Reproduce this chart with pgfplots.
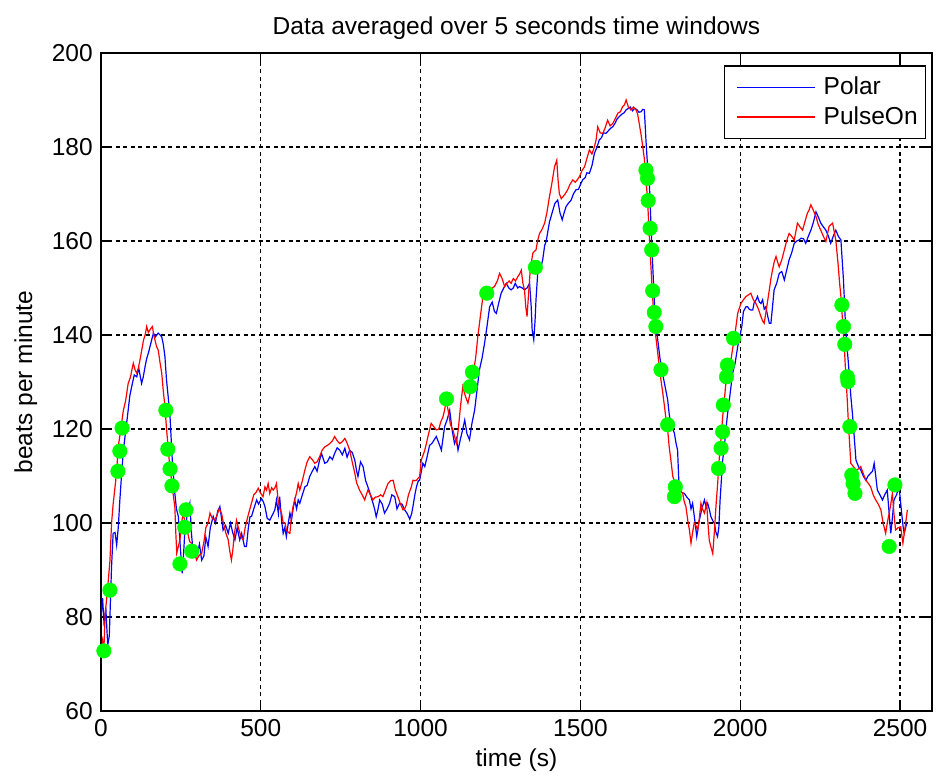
\documentclass[border=0pt]{standalone}
\usepackage{fontspec}
\setmainfont{Liberation Sans}
\usepackage{pgfplots}
\pgfplotsset{compat=1.18}

\begin{document}
\fontsize{24.5bp}{29bp}\selectfont
\begin{tikzpicture}
\useasboundingbox (-101bp,-73bp) rectangle (835bp,711bp);
\begin{axis}[
  width=831bp, height=658bp, scale only axis,
  at={(0,0)}, anchor=south west,
  xmin=0, xmax=2600, ymin=60, ymax=200,
  xtick={0,500,...,2500}, ytick={60,80,...,200},
  /pgf/number format/assume math mode=true,
  /pgf/number format/set thousands separator={},
  tick label style={font=\fontsize{24.5bp}{29bp}\selectfont},
  label style={font=\fontsize{24.5bp}{29bp}\selectfont},
  title style={font=\fontsize{24.5bp}{29bp}\selectfont, yshift=-1bp},
  title={Data averaged over 5 seconds time windows},
  xlabel={time (s)}, ylabel={beats per minute},
  xlabel style={yshift=4bp},
  ylabel style={yshift=-2bp},
  grid=major,
  major grid style={black, line width=1.2bp, dash pattern=on 4bp off 3.5bp},
  tick align=inside, major tick length=9bp,
  tick style={black, line width=1.1bp},
  axis line style={line width=1.3bp},
  legend style={at={(rel axis cs:0.993,0.981)}, anchor=north east,
    draw=black, line width=1.1bp, fill=white,
    font=\fontsize{24.5bp}{29bp}\selectfont,
    inner xsep=6bp, inner ysep=9bp, row sep=4bp},
  legend cell align=left,
  legend image code/.code={\draw[#1, line width=1.4bp] (0bp,0bp) -- (78bp,0bp);
    \path (-6bp,0bp) (84bp,0bp);},
]
\addplot[blue, line width=1.2bp] table {
0 80
5 84
10 78
15 82
21 74
26 76
33 90.7
38 97.8
44 98
49 95.3
54 99
59 104.9
64 110
70 115.5
78 120
85 124
90 127
96 129
104 131.5
112 131.1
118 133
127 129.7
132 131
138 133.3
143 135
148 136.1
155 138
164 140.4
170 139.6
179 140.4
185 140
190 139.6
195 138
200 135.4
205 130.4
210 127
216 122.6
223 113.4
231 106.3
236 103
242 101.4
248 95
254 89.3
258 93
262 97.8
270 102
278 104.2
283 97.8
288 94
294 95
300 93
308 95.5
315 92.1
322 93
328 97
335 95
342 99
351 101.4
358 100
365 102.5
372 103.5
377 101
382 98.5
390 99.5
398 97.8
405 100
412 98
419 96.4
426 99
434 96.4
440 97.8
449 95
455 95
461 99
466 101.3
471 101.4
478 103
487 104.9
493 104
502 105.2
508 104.5
513 103.5
520 101
528 100.6
534 101.4
544 102.8
549 104.9
555 102
559 105.6
565 100.6
570 97.8
575 99
580 97.1
586 100
591 102.1
596 100.6
601 103
606 104.9
612 103
617 104.9
622 104.2
630 106
638 107.7
645 108
653 109.9
661 111
669 112.0
676 111
684 113.4
690 114.8
700 112.7
708 113
716 114.1
724 113.5
731 114.8
739 116
747 115.5
755 114.5
763 115.9
770 114
778 115.5
786 115
794 113.4
800 111
804 109.9
812 113
820 112.0
828 109
835 107.7
843 106
851 104.2
856 103
861 101.3
867 103
872 104.9
880 104
887 102.1
895 103
903 104.2
910 106
919 105.6
926 103
934 104.2
942 104
950 102.8
958 102
966 100.8
972 102
976 103.5
982 106
987 107.7
993 109
997 109.1
1007 112.7
1013 112.0
1020 114
1028 116.5
1036 117
1049 118.4
1057 117
1065 115.5
1070 118
1075 120.5
1083 122
1091 124.0
1098 120
1106 116.9
1112 118
1117 115.5
1125 118
1132 120
1138 121.9
1145 119
1153 117.7
1160 121
1169 124.0
1176 128
1184 132.6
1192 135
1200 138.2
1208 142
1216 146.0
1224 147
1231 145
1237 144.6
1245 147
1252 148.9
1260 150
1268 151.0
1276 150
1283 149.6
1290 150
1296 151
1304 150
1309 150.3
1318 150
1325 149.6
1333 150
1341 151.0
1346 146
1349 141.1
1354 139.0
1358 143
1361 147.5
1367 153.8
1375 154
1382 156
1388 159
1393 160
1403 164
1414 166.6
1420 168
1429 168.7
1436 166
1443 164.5
1449 166
1455 167.3
1462 168
1471 168.7
1478 170
1486 170.9
1494 171
1500 172
1507 173.0
1515 173.5
1520 174.5
1528 174.4
1536 176
1544 178.7
1552 180
1559 181.5
1566 182
1572 183
1580 182.9
1588 183.5
1595 184
1601 184.3
1608 185
1615 186
1622 186.5
1630 187
1637 187.3
1643 187.9
1650 188.2
1656 188.5
1663 187.7
1669 188.2
1676 188
1683 187.4
1690 187.5
1695 188
1700 187.9
1705 181.5
1710 176
1716 171.6
1721 163
1726 155
1734 143.2
1742 138.9
1749 135
1757 131.8
1765 129
1773 126.2
1778 123
1783 121.2
1789 120
1794 119.1
1799 117
1804 115.5
1809 107
1817 106.5
1825 106.3
1833 105.5
1841 104.9
1846 103
1851 104.2
1857 101
1864 97.1
1868 99
1872 100.6
1880 103
1888 104.9
1893 103.5
1898 104.2
1903 103
1908 101.4
1914 100.5
1919 99.9
1924 98
1929 97.1
1933 99
1937 104.9
1945 113.4
1950 116
1955 119.8
1960 123
1966 126.2
1971 129
1976 131.8
1984 134
1992 137.5
1998 139.5
2005 141.8
2010 145
2018 146.0
2023 146.0
2028 145.5
2033 145.3
2039 145.3
2044 147
2049 147.4
2054 148.2
2060 147
2065 146.7
2070 147.5
2075 145.5
2080 146.0
2086 144
2091 142.5
2096 142.5
2101 146
2106 149.6
2114 151
2122 153.1
2130 153.5
2138 151.7
2146 154
2153 156.0
2161 157.5
2169 159.5
2177 160
2184 160.2
2190 160.6
2198 160.5
2205 159.5
2213 161
2221 162.3
2229 164
2237 166.2
2245 165
2252 163.8
2260 163
2268 162.3
2276 161
2283 159.5
2291 161
2299 162.3
2307 161
2315 160.2
2323 151.7
2330 141.1
2336 136
2341 131.8
2346 127
2351 123.3
2357 118
2362 113.4
2370 112
2377 111.3
2385 110
2393 109.1
2400 110
2408 110.6
2414 111
2419 112.7
2424 110
2429 107.0
2437 106
2445 104.9
2452 106
2460 107.0
2466 102
2471 97.8
2476 101
2481 104.9
2489 106
2497 107.7
2505 102.1
2510 99
2513 97.8
2521 100.0
};
\addlegendentry{Polar}
\addplot[red, line width=1.2bp] table {
0 72
5 75
9 73
13 80.8
18 84
23 87.9
28 92
33 99.9
38 104
44 107.7
49 111
54 116.3
60 119
64 121
70 124.0
77 126
85 129.7
92 131
101 134.0
107 132.5
112 131.9
117 133
122 134.7
128 137
133 138.9
138 140
143 141.8
148 140.5
153 141.1
157 141.5
161 141.8
165 140
169 138.9
174 137.5
179 136.8
185 134
190 131.9
195 128
200 124.8
205 120
210 116.3
215 112
221 109.1
226 106
231 103.5
234 98
237 93.6
242 95
247 96.4
252 100
257 102.1
262 100.5
268 99.2
274 97
278 96
283 95.7
290 94
295 93
299 92.1
306 93
315 93.6
322 96
328 99
335 100
341 102.1
348 101
356 100.6
362 101.5
370 103
377 102.1
383 100
390 98
398 96.4
403 94
408 92.1
412 94
418 98
424 100.6
430 99
438 97
445 96.4
451 99
458 101
465 102.8
472 104.5
478 106
485 106.5
492 107.4
498 106.5
503 106
507 105.6
513 107.7
518 107
523 108.4
528 106.3
534 107.5
539 107.0
544 107.5
549 108.4
554 104.9
560 103
565 102.1
570 100
576 100
580 98.5
586 98
591 97.8
596 101.5
601 103.5
606 104.9
612 106.5
617 108.4
622 107.0
630 109
638 111.3
645 113
653 114.1
661 113.5
669 112.7
676 113
684 114.1
692 115.5
700 116.2
708 116.5
716 116.9
724 117.5
731 118.4
739 117.5
747 116.9
755 117.3
763 118.0
770 117
778 115.5
786 113
794 110.6
800 108.5
809 107.0
817 106
825 104.9
830 106
835 107.0
843 106
851 104.9
858 105.5
867 105.6
875 106
882 105.6
890 107
898 108.4
906 109
914 109.1
921 107
929 105.6
937 104
945 102.8
950 103
955 103.8
962 106
971 107.7
976 109.1
982 109
987 109.1
997 109.9
1002 113.4
1008 114.5
1013 115.5
1018 116.9
1025 119
1033 121.2
1041 120.5
1049 119.8
1057 120
1063 121.5
1070 122.6
1075 124
1080 126.2
1086 124
1093 121
1101 119.8
1106 118.5
1112 117.0
1118 120
1125 125
1132 129.0
1140 127
1148 125.5
1156 128
1164 131.8
1172 135
1179 139.7
1187 144
1195 148.2
1200 148
1208 148.5
1216 148.9
1224 150
1231 150.3
1240 151.5
1247 153.1
1255 152
1263 150.3
1270 151
1277 151.5
1283 151.0
1290 152
1297 151.5
1304 152.4
1310 153
1315 153.8
1320 151
1325 149.6
1329 146
1333 143.9
1338 149
1343 153.8
1351 157.4
1356 157.8
1361 158.1
1366 160
1372 161.6
1380 162.5
1388 163.8
1395 166
1403 169.4
1410 172
1419 175.8
1426 177.2
1430 173
1434 170.1
1440 169
1445 169.4
1452 170
1460 170.9
1467 172
1476 173.0
1484 172.5
1490 173
1497 173.7
1505 175
1513 175.8
1520 177.5
1528 179.4
1536 178.5
1544 180.1
1549 181.5
1554 184.3
1562 183
1570 182.9
1577 184
1585 185.7
1593 184.5
1601 185.0
1609 186
1617 187.2
1625 187.5
1632 188.6
1638 189
1643 190.0
1650 188.5
1658 187.9
1666 188.5
1674 187.9
1679 187
1684 185.0
1690 182.5
1695 180.1
1700 177.5
1705 173
1710 169
1714 163
1721 154
1726 148
1731 142.5
1737 139
1742 136.1
1747 133
1752 130.4
1757 128
1763 124.8
1768 122
1773 119.8
1778 116
1783 113.4
1789 109.9
1796 108.5
1804 107.7
1812 107
1820 106.3
1825 104.5
1830 103.5
1836 100.5
1841 98.5
1846 95.7
1851 98
1856 100.0
1861 99.5
1867 98.5
1872 101
1877 104.2
1882 103
1888 102.1
1895 104.2
1899 100
1903 96.4
1908 95
1914 93.5
1919 98
1924 103.5
1929 108
1934 113.4
1940 118
1945 122.6
1950 126
1955 129.7
1963 132.5
1971 134.7
1976 137
1981 138.9
1987 142
1992 144.6
2002 146.7
2010 147.5
2018 148.2
2025 148.5
2033 148.9
2041 147.5
2049 146.7
2057 145.5
2065 143.9
2070 143
2075 142.5
2083 146
2091 149.6
2096 152
2101 153.8
2106 155.5
2112 156.7
2117 155.5
2122 154.5
2130 156
2138 158.1
2145 160
2153 161.6
2161 161
2169 160.2
2174 162
2179 163.8
2187 163
2195 162.3
2202 164
2210 165.9
2215 166.5
2221 167.7
2229 166.5
2237 165.2
2244 163.5
2252 162.3
2260 161
2268 159.9
2273 161.5
2278 163.1
2284 163.5
2289 163.8
2294 162
2299 160.2
2306 155.2
2311 151
2315 148.2
2322 141.1
2326 137
2330 131.8
2335 126
2339 120.5
2346 112.7
2354 112
2362 111.3
2370 111.5
2377 112.0
2385 110.5
2393 109.1
2400 108.5
2408 107.7
2416 106
2424 104.9
2432 104
2440 102.8
2447 100
2455 97.8
2460 100
2466 102.1
2471 104
2476 106.3
2481 102
2486 98.5
2494 99
2502 99.2
2509 95.7
2516 99.2
2523 102.8
};
\addlegendentry{PulseOn}
\addplot[only marks, mark=*, mark size=7.3bp, draw=green, fill=green, forget plot] table {
9 72.8
28 85.7
53 111
59 115.3
66 120.2
203 124
209 115.7
216 111.5
222 107.9
247 91.3
262 99.1
266 102.8
284 94
1081 126.4
1155 129
1162 132.1
1207 148.9
1359 154.4
1705 175.1
1710 173.3
1712 168.6
1718 162.7
1723 158.1
1726 149.4
1731 144.8
1736 141.8
1752 132.6
1773 120.9
1794 105.6
1797 107.7
1932 111.6
1940 115.9
1945 119.4
1947 125.1
1957 131.1
1960 133.6
1979 139.3
2318 146.4
2323 141.8
2327 138
2335 131.1
2337 130.1
2343 120.5
2349 110.2
2353 108.4
2359 106.3
2466 95
2484 108.1
};
\end{axis}
\end{tikzpicture}
\end{document}
